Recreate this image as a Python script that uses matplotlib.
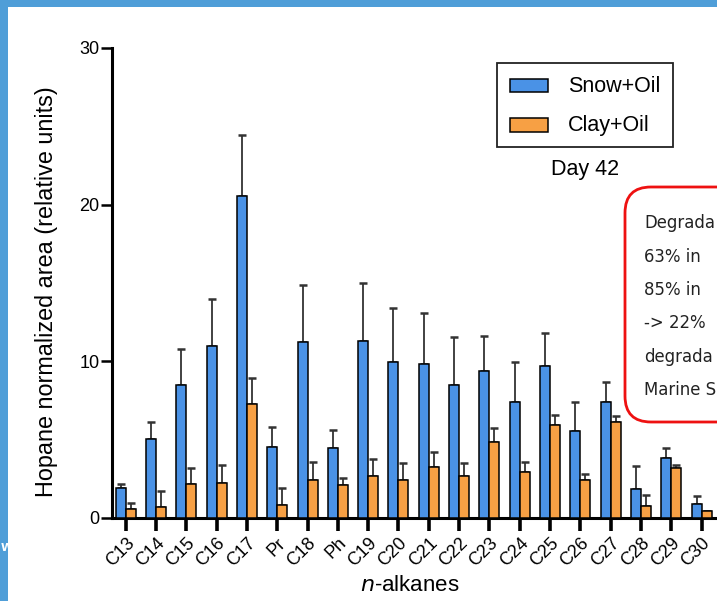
import matplotlib
matplotlib.use("Agg")
import matplotlib.pyplot as plt
import numpy as np
from matplotlib.patches import FancyBboxPatch, Rectangle
from matplotlib.transforms import IdentityTransform

categories = ["C13", "C14", "C15", "C16", "C17", "Pr", "C18", "Ph", "C19", "C20",
              "C21", "C22", "C23", "C24", "C25", "C26", "C27", "C28", "C29", "C30"]
snow = [1.93, 5.06, 8.52, 10.98, 20.55, 4.53, 11.23, 4.49, 11.28, 9.96,
        9.81, 8.50, 9.36, 7.43, 9.68, 5.53, 7.40, 1.87, 3.83, 0.89]
snow_err = [0.26, 1.07, 2.27, 2.98, 3.87, 1.28, 3.66, 1.15, 3.72, 3.42,
            3.25, 3.07, 2.28, 2.53, 2.15, 1.89, 1.25, 1.43, 0.64, 0.51]
clay = [0.55, 0.72, 2.15, 2.25, 7.26, 0.85, 2.40, 2.13, 2.66, 2.43,
        3.25, 2.70, 4.85, 2.95, 5.91, 2.45, 6.13, 0.79, 3.17, 0.43]
clay_err = [0.39, 1.02, 1.02, 1.11, 1.65, 1.08, 1.19, 0.42, 1.11, 1.08,
            0.96, 0.83, 0.91, 0.64, 0.66, 0.34, 0.38, 0.66, 0.21, 0.0]
yticks = [0, 10, 20, 30]
# visible (cropped) part of the slide note
box_lines = ["Degrada", "63% in", "85% in", "-> 22%", "degrada", "Marine S"]

BLUE = "#4A92E6"
ORANGE = "#F7A044"
STRIP = "#4F9ED8"

W, H = 717, 601
fig = plt.figure(figsize=(W / 100, H / 100), dpi=100)
fig.patch.set_facecolor("white")

ax = fig.add_axes([112 / W, (H - 518) / H, (W - 112) / W, (518 - 48) / H])
x = np.arange(len(categories))
bw = 0.33
ax.bar(x - bw / 2, snow, bw, color=BLUE, edgecolor="black", linewidth=1.1, zorder=3)
ax.bar(x + bw / 2, clay, bw, color=ORANGE, edgecolor="black", linewidth=1.1, zorder=3)
ax.errorbar(x - bw / 2, snow, yerr=[np.zeros(len(snow)), snow_err], fmt="none",
            ecolor="#333333", elinewidth=1.3, capsize=2.8, capthick=1.8, zorder=2)
ax.errorbar(x + bw / 2, clay, yerr=[np.zeros(len(clay)), clay_err], fmt="none",
            ecolor="#333333", elinewidth=1.3, capsize=2.8, capthick=1.8, zorder=2)

ax.set_xlim(-0.452, 19.51)
ax.set_ylim(0, 30)
ax.set_yticks(yticks)
ax.set_xticks(x)
ax.set_xticklabels(categories, rotation=45, ha="right", rotation_mode="anchor",
                   fontsize=13, family="Liberation Sans")
for lab in ax.get_yticklabels():
    lab.set_family("Liberation Sans")
    lab.set_fontsize(13)
ax.spines["top"].set_visible(False)
ax.spines["right"].set_visible(False)
ax.spines["left"].set_linewidth(2.2)
ax.spines["bottom"].set_linewidth(2.2)
ax.tick_params(axis="y", length=8, width=1.8, pad=1)
ax.tick_params(axis="x", length=9, width=2.6, pad=3)
ax.set_ylabel("Hopane normalized area (relative units)", fontsize=16.8,
              family="Liberation Sans")
ax.set_xlabel(r"$\it{n}$-alkanes", fontsize=16, family="Liberation Sans")
ax.xaxis.set_label_coords((410 - 112) / (W - 112), -(575 - 518) / (518 - 48), transform=ax.transAxes)
ax.yaxis.set_label_coords(-(112 - 58) / (W - 112), (518 - 292) / (518 - 48), transform=ax.transAxes)
ax.patch.set_alpha(0)

# legend (drawn by hand to match box geometry)
pix = IdentityTransform()
def py(yt):
    return H - yt

fig.add_artist(Rectangle((497, py(147)), 176, 84, transform=pix, fill=True,
                         facecolor="white", edgecolor="#222222", linewidth=1.3, zorder=5))
fig.add_artist(Rectangle((510, py(92)), 38, 13, transform=pix, facecolor=BLUE,
                         edgecolor="black", linewidth=1.1, zorder=6))
fig.add_artist(Rectangle((510, py(132)), 38, 14, transform=pix, facecolor=ORANGE,
                         edgecolor="black", linewidth=1.1, zorder=6))
fig.text(568 / W, py(86) / H, "Snow+Oil", fontsize=15.5, family="Liberation Sans",
         va="center", ha="left", zorder=7)
fig.text(568 / W, py(125) / H, "Clay+Oil", fontsize=15.5, family="Liberation Sans",
         va="center", ha="left", zorder=7)
fig.text(585 / W, py(169) / H, "Day 42", fontsize=15.5, family="Liberation Sans",
         va="center", ha="center", zorder=7)

# red rounded box
fig.add_artist(FancyBboxPatch((625, py(422)), 320, 235, boxstyle="round,pad=0,rounding_size=26",
                              transform=pix, facecolor="white", edgecolor="#EE1111",
                              linewidth=2.0, zorder=8))
ys = [223, 257, 290, 323, 357, 390]
for yy, t in zip(ys, box_lines):
    fig.text(644 / W, py(yy) / H, t, fontsize=11.9, family="DejaVu Sans",
             va="center", ha="left", zorder=9, color="#222222")

# slide frame
fig.add_artist(Rectangle((0, py(7)), W, 7, transform=pix, facecolor=STRIP,
                         edgecolor="none", zorder=10))
fig.add_artist(Rectangle((0, 0), 8, H, transform=pix, facecolor=STRIP,
                         edgecolor="none", zorder=10))
fig.text(0.5 / W, py(548) / H, "W", fontsize=8, color="white", weight="bold",
         va="center", ha="left", zorder=11)

fig.savefig("out.png", dpi=100)
